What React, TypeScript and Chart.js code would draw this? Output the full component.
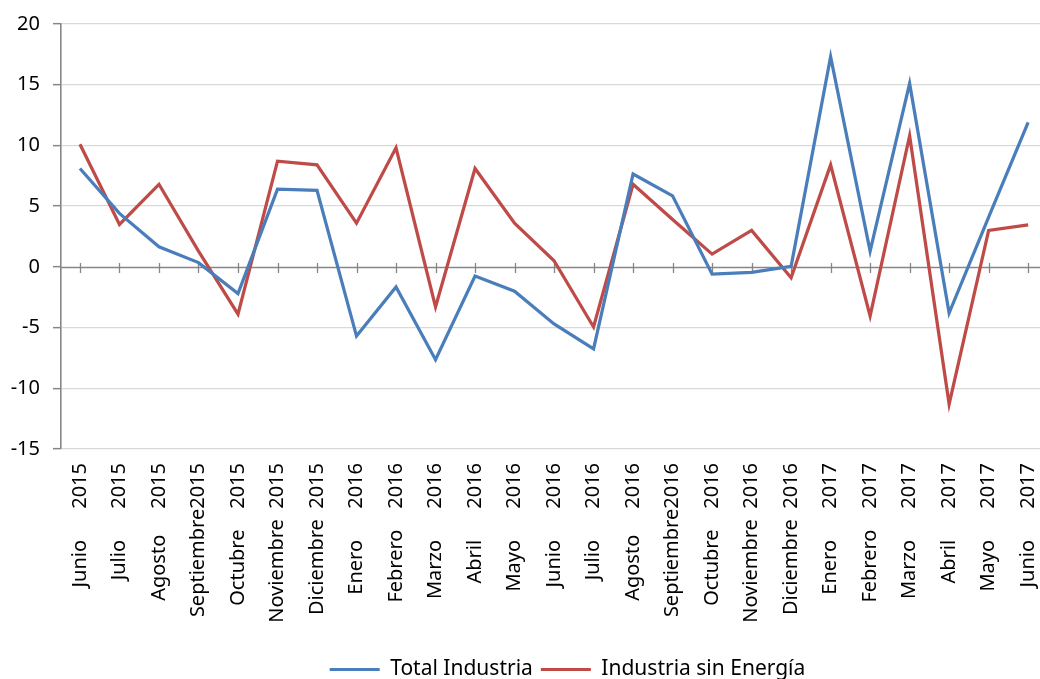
import React, { useEffect, useRef } from 'react';
import { Chart, registerables } from 'chart.js';

Chart.register(...registerables);

const categories = [
  'Junio      2015', 'Julio      2015', 'Agosto     2015', 'Septiembre2015', 'Octubre    2015',
  'Noviembre  2015', 'Diciembre  2015', 'Enero      2016', 'Febrero    2016', 'Marzo      2016',
  'Abril      2016', 'Mayo      2016', 'Junio      2016', 'Julio      2016', 'Agosto     2016',
  'Septiembre2016', 'Octubre    2016', 'Noviembre  2016', 'Diciembre  2016', 'Enero      2017',
  'Febrero    2017', 'Marzo      2017', 'Abril      2017', 'Mayo      2017', 'Junio      2017',
];

const totalIndustria = [
  8.1, 4.4, 1.65, 0.35, -2.2, 6.4, 6.3, -5.7, -1.65, -7.65, -0.75, -2.0, -4.7,
  -6.75, 7.65, 5.85, -0.6, -0.45, 0.05, 17.3, 1.3, 15.1, -3.8, 4.1, 11.9,
];

const industriaSinEnergia = [
  10.1, 3.5, 6.8, 1.3, -3.9, 8.7, 8.4, 3.6, 9.8, -3.3, 8.1, 3.6, 0.5,
  -4.95, 6.8, 3.9, 1.05, 3.0, -0.9, 8.4, -4.05, 10.8, -11.3, 3.0, 3.45,
];

const seriesNames = ['Total Industria', 'Industria sin Energía'];
const seriesColors = ['#4a7ebb', '#be4b48'];
const yMin = -15;
const yMax = 20;
const yStep = 5;

const FONT = "'Noto Sans', 'Open Sans', sans-serif";
const FONT_SIZE = 20;
const LEGEND_FONT_SIZE = 21;

export default function App() {
  const ref = useRef<HTMLCanvasElement>(null);

  useEffect(() => {
    if (!ref.current) return;
    const zeroAxis = {
      id: 'zeroAxis',
      beforeDatasetsDraw(chart: any) {
        const { ctx, chartArea } = chart;
        const x = chart.scales.x;
        const y = chart.scales.y;
        const y0 = Math.round(y.getPixelForValue(0)) + 0.5;
        ctx.save();
        ctx.strokeStyle = '#868686';
        ctx.lineWidth = 1.6;
        ctx.beginPath();
        ctx.moveTo(chartArea.left, y0);
        ctx.lineTo(chartArea.right, y0);
        ctx.stroke();
        ctx.lineWidth = 1.3;
        ctx.beginPath();
        categories.forEach((_, i) => {
          const px = Math.round(x.getPixelForValue(i)) + 0.5;
          ctx.moveTo(px, y0 - 4.5);
          ctx.lineTo(px, y0 + 5.5);
        });
        ctx.stroke();
        ctx.restore();
      },
    };

    const legendShift = {
      id: 'legendShift',
      afterLayout(chart: any) {
        const lg = chart.legend;
        if (lg) {
          lg.left += 17;
          lg.right += 17;
        }
      },
    };

    const makeData = (arr: number[]) => arr.map((v, i) => ({ x: i, y: v }));

    const chart = new Chart(ref.current, {
      type: 'line',
      data: {
        datasets: [
          {
            label: seriesNames[0],
            data: makeData(totalIndustria),
            borderColor: seriesColors[0],
            backgroundColor: seriesColors[0],
            borderWidth: 3.25,
            pointRadius: 0,
            tension: 0,
          },
          {
            label: seriesNames[1],
            data: makeData(industriaSinEnergia),
            borderColor: seriesColors[1],
            backgroundColor: seriesColors[1],
            borderWidth: 3.25,
            pointRadius: 0,
            tension: 0,
          },
        ],
      },
      options: {
        animation: false,
        responsive: false,
        maintainAspectRatio: false,
        layout: { padding: { top: 24, left: 0, right: 0, bottom: -11 } },
        plugins: {
          tooltip: { enabled: false },
          legend: {
            position: 'bottom',
            fullSize: false,
            labels: {
              font: { family: FONT, size: LEGEND_FONT_SIZE },
              color: '#000',
              boxWidth: 50,
              boxHeight: 3,
              padding: 8,
              generateLabels: (chart: any) =>
                chart.data.datasets.map((ds: any, i: number) => ({
                  text: ds.label,
                  fillStyle: ds.borderColor,
                  strokeStyle: ds.borderColor,
                  lineWidth: 0,
                  hidden: false,
                  datasetIndex: i,
                  fontColor: '#000',
                })),
            },
          },
        },
        scales: {
          x: {
            type: 'linear',
            min: -0.48,
            max: 24.3,
            afterBuildTicks: (s: any) => {
              s.ticks = categories.map((_, i) => ({ value: i }));
            },
            afterFit: (s: any) => {
              s.height = 202;
              s.paddingLeft = 0;
              s.paddingRight = 0;
            },
            ticks: {
              autoSkip: false,
              minRotation: 90,
              maxRotation: 90,
              padding: 14,
              color: '#000',
              font: { family: FONT, size: FONT_SIZE },
              callback: (v: any) => categories[Math.round(Number(v))] ?? '',
            },
            grid: { display: false, drawTicks: false },
            border: { display: false },
          },
          y: {
            min: yMin,
            max: yMax,
            afterFit: (s: any) => {
              s.width = 61;
              s.paddingTop = 0;
              s.paddingBottom = 0;
            },
            ticks: {
              stepSize: yStep,
              padding: 13,
              color: '#000',
              font: { family: FONT, size: FONT_SIZE },
            },
            grid: {
              color: (c: any) => (c.tick && c.tick.value === 0 ? 'rgba(0,0,0,0)' : '#d9d9d9'),
              lineWidth: 1.3,
              tickLength: 8,
              tickColor: '#868686',
              tickWidth: 1.5,
            },
            border: { color: '#868686', width: 1.6 },
          },
        },
      },
      plugins: [zeroAxis, legendShift],
    } as any);

    return () => chart.destroy();
  }, []);

  return (
    <div style={{ position: 'absolute', left: 0, top: 0, width: 1040, height: 679, background: '#fff' }}>
      <canvas ref={ref} width={1040} height={679} style={{ display: 'block' }} />
    </div>
  );
}
